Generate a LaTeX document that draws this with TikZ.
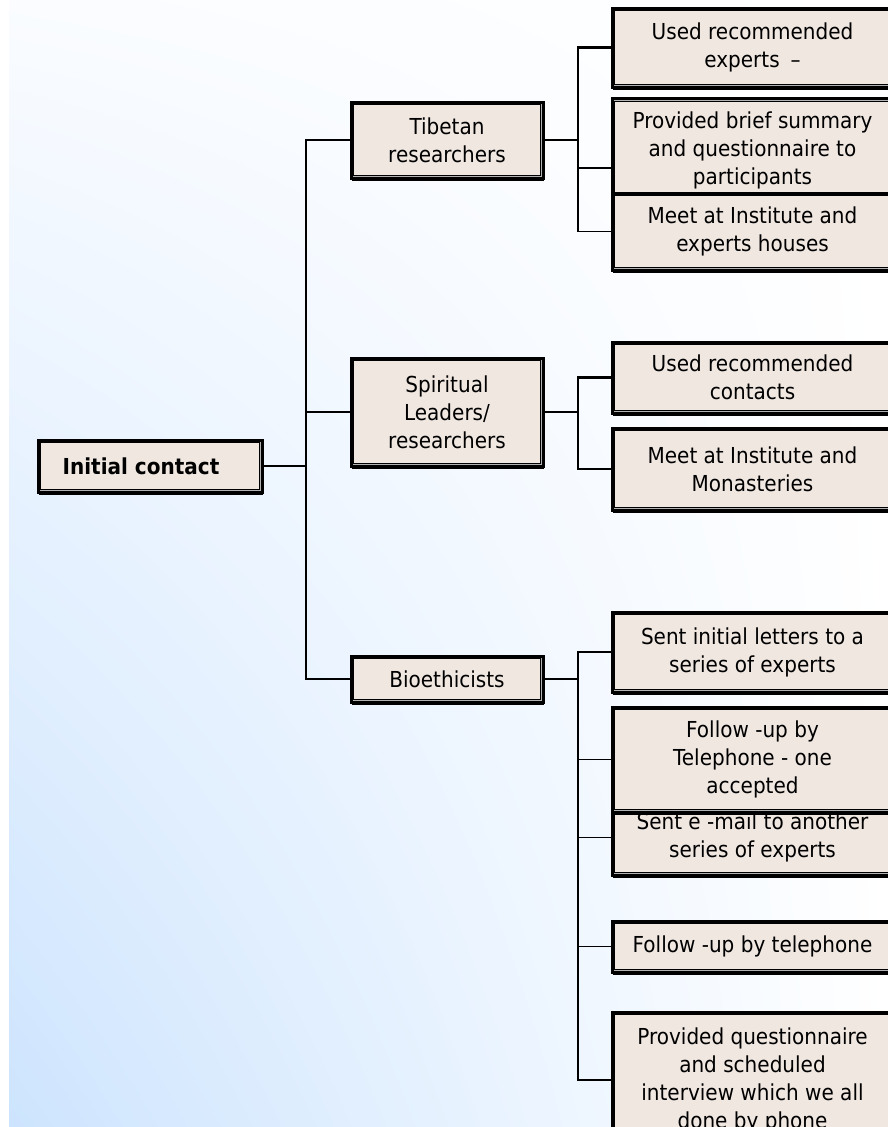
\documentclass[tikz,border=0pt]{standalone}
\usepackage{fontspec}
\setmainfont{DejaVu Sans}[FakeStretch=0.91]
\usetikzlibrary{shadows,shadings}
\definecolor{boxfill}{RGB}{240,231,225}
\definecolor{skyA}{RGB}{250,252,255}
\definecolor{skyB}{RGB}{205,228,254}

\begin{document}
\begin{tikzpicture}[x=1pt,y=-1pt,box/.style={draw=black,line width=3pt,fill=boxfill,align=center,inner sep=0pt,font=\fontsize{22}{28}\selectfont,drop shadow={shadow xshift=0.8pt,shadow yshift=-2.6pt,opacity=1,fill=black},path picture={\draw[gray!60,line width=0.8pt] ([shift={(1.9pt,-1.9pt)}]path picture bounding box.north west) rectangle ([shift={(-1.9pt,1.9pt)}]path picture bounding box.south east);\draw[black,line width=0.9pt] ([shift={(2.7pt,-2.7pt)}]path picture bounding box.north west) rectangle ([shift={(-2.7pt,2.7pt)}]path picture bounding box.south east);}},leaf/.style={box,minimum width=281pt},link/.style={line width=2.4pt,line cap=rect},twig/.style={line width=1.1pt,line cap=rect}]
\useasboundingbox (0,0) rectangle (888,1127);
\clip (0,0) rectangle (888,1127);
\fill[white] (0,0) rectangle (888,1127);
\shade[upper left=skyA,upper right=white,lower left=skyB,lower right=white] (9,0) rectangle (888,1127);
\coordinate (trunk) at (306,0);
\coordinate (fork) at (578,0);
% left column
\node[box,minimum width=224pt,minimum height=52pt,font=\fontsize{22}{28}\selectfont\bfseries] (init) at (150,466) {Initial contact\hspace{18pt}};
% middle column
\node[box,minimum width=192pt,minimum height=76pt] (tib) at (447,140) {Tibetan\\researchers};
\node[box,minimum width=192pt,minimum height=108pt] (spir) at (447,412) {Spiritual\\Leaders/\\researchers};
\node[box,minimum width=192pt,minimum height=46pt] (bio) at (447,679) {Bioethicists};
% right column
\node[leaf,minimum height=79pt] (t1) at (752.5,47.5) {Used recommended\\experts\enspace–};
\node[leaf,minimum height=103pt] (t2) at (752.5,150) {Provided brief summary\\and questionnaire to\\participants};
\node[leaf,minimum height=77pt] (t3) at (752.5,231.5) {Meet at Institute and\\experts houses};
\node[leaf,minimum height=71pt] (s1) at (752.5,377.5) {Used recommended\\contacts};
\node[leaf,minimum height=82pt] (s2) at (752.5,469) {Meet at Institute and\\Monasteries};
\node[leaf,minimum height=80pt] (b1) at (752.5,652) {Sent initial letters to a\\series of experts};
\node[leaf,minimum height=75pt] (b3) at (752.5,837.5) {Sent e -mail to another\\series of experts};
\node[leaf,minimum height=105pt] (b2) at (752.5,759.5) {Follow -up by\\Telephone - one\\accepted};
\node[leaf,minimum height=51pt] (b4) at (752.5,946.5) {Follow -up by telephone};
\node[leaf,minimum height=136pt] (b5) at (752.5,1080) {Provided questionnaire\\and scheduled\\interview which we all\\done by phone};
% connectors
\draw[link] (init) -- (init -| trunk);
\draw[twig] (tib -| trunk) -- (bio -| trunk);
\draw[link] (tib) -- (tib -| trunk);
\draw[twig] (spir) -- (spir -| trunk);
\draw[link] (bio) -- (bio -| trunk);
\draw[link] (tib) -- (tib -| fork) |- (t1);
\draw[twig] (tib -| fork) |- ([yshift=-18pt]t2.west);
\draw[twig] (tib -| fork) |- (t3);
\draw[link] (spir) -- (spir -| fork) |- (s1);
\draw[link] (spir -| fork) |- (s2);
\draw[link] (bio) -- (bio -| fork) |- (b1);
\draw[twig] (bio -| fork) |- (b2);
\draw[twig] (bio -| fork) |- (b3);
\draw[twig] (bio -| fork) |- (b4);
\draw[twig] (bio -| fork) |- (b5);
\end{tikzpicture}
\end{document}
